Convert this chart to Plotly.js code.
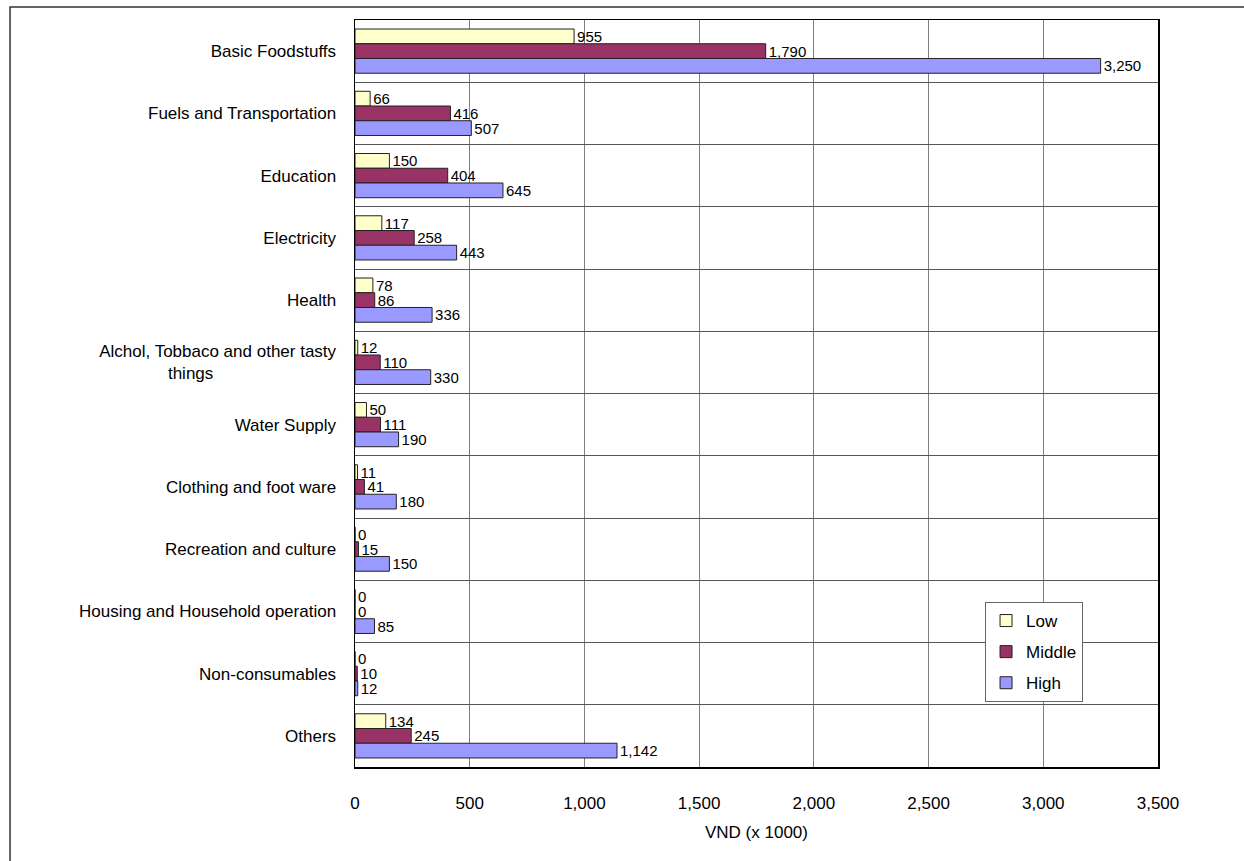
<!DOCTYPE html>
<html>
<head>
<meta charset="utf-8">
<script src="https://cdn.plot.ly/plotly-3.0.1.min.js"></script>
<style>
  html, body { margin: 0; padding: 0; background: #fff; overflow: hidden; }
  #chart { width: 1244px; height: 861px; }
</style>
</head>
<body>
<div id="chart"></div>
<script>
// Monthly household spending by income group (VND x 1000)
const categories = [
  "Basic Foodstuffs",
  "Fuels and Transportation",
  "Education",
  "Electricity",
  "Health",
  "Alchol, Tobbaco and other tasty things",
  "Water Supply",
  "Clothing and foot ware",
  "Recreation and culture",
  "Housing and Household operation",
  "Non-consumables",
  "Others"
];

// Axis labels shown for each category (long one wrapped onto two lines)
const NB = "\u00A0";
const categoryLabels = [
  "Basic Foodstuffs",
  "Fuels and Transportation",
  "Education",
  "Electricity",
  "Health",
  "Alchol, Tobbaco and other tasty<br>things" + NB.repeat(26),
  "Water Supply",
  "Clothing and foot ware",
  "Recreation and culture",
  "Housing and Household operation",
  "Non-consumables",
  "Others"
];

const lowValues    = [955, 66, 150, 117, 78, 12, 50, 11, 0, 0, 0, 134];
const middleValues = [1790, 416, 404, 258, 86, 110, 111, 41, 15, 0, 10, 245];
const highValues   = [3250, 507, 645, 443, 336, 330, 190, 180, 150, 85, 12, 1142];

const xTickValues = [0, 500, 1000, 1500, 2000, 2500, 3000, 3500];

const FONT = "Liberation Sans, Arial, sans-serif";

function barTrace(name, values, color, group) {
  return {
    type: "bar",
    orientation: "h",
    name: name,
    y: categories,
    x: values,
    legendgroup: group,
    marker: { color: color, line: { color: "#222", width: 1 } },
    texttemplate: "%{x:,}",
    textposition: "outside",
    constraintext: "none",
    cliponaxis: false,
    textfont: { family: FONT, size: 15, color: "#000" },
    hoverinfo: "name+x"
  };
}

const traces = [
  barTrace("Low", lowValues, "#FFFFCC", "g1"),
  barTrace("Middle", middleValues, "#993366", "g2"),
  barTrace("High", highValues, "#9999FF", "g3")
];

const layout = {
  width: 1244,
  height: 861,
  margin: { l: 355, r: 86, t: 20, b: 94 },
  paper_bgcolor: "#fff",
  plot_bgcolor: "#fff",
  font: { family: FONT, size: 17, color: "#000" },
  barmode: "group",
  bargap: 0.29,
  bargroupgap: 0,
  showlegend: true,
  legend: {
    x: 0.7846, y: 0.2209, xanchor: "left", yanchor: "top",
    bgcolor: "#fff", bordercolor: "#666", borderwidth: 1,
    traceorder: "grouped", tracegroupgap: 6,
    font: { family: FONT, size: 17, color: "#000" }
  },
  xaxis: {
    range: [0, 3500],
    tickmode: "array",
    tickvals: xTickValues,
    tickformat: ",",
    showgrid: true,
    gridcolor: "#808080",
    gridwidth: 1,
    zeroline: false,
    showline: true,
    linecolor: "#000",
    linewidth: 1.5,
    mirror: true,
    ticks: "",
    ticklabelstandoff: 20,
    tickfont: { family: FONT, size: 17, color: "#000" },
    title: { text: "VND (x 1000)", standoff: 14, font: { family: FONT, size: 17, color: "#000" } },
    fixedrange: true
  },
  yaxis: {
    type: "category",
    autorange: "reversed",
    tickmode: "array",
    tickvals: categories,
    ticktext: categoryLabels,
    tickson: "boundaries",
    showgrid: true,
    gridcolor: "#555",
    gridwidth: 1,
    showline: true,
    linecolor: "#000",
    linewidth: 1.5,
    mirror: true,
    ticks: "",
    ticklabelstandoff: 14,
    tickfont: { family: FONT, size: 17, color: "#000" },
    fixedrange: true
  },
  shapes: [{
    // outer frame around the chart area (runs past the right and bottom edges)
    type: "rect",
    xref: "paper", yref: "paper",
    x0: -0.4296, x1: 1.13,
    y0: -0.2, y1: 1.0174,
    line: { color: "#333", width: 1.5 },
    fillcolor: "rgba(0,0,0,0)",
    layer: "below"
  }]
};

Plotly.newPlot("chart", traces, layout, { displayModeBar: false, staticPlot: true });
</script>
</body>
</html>
